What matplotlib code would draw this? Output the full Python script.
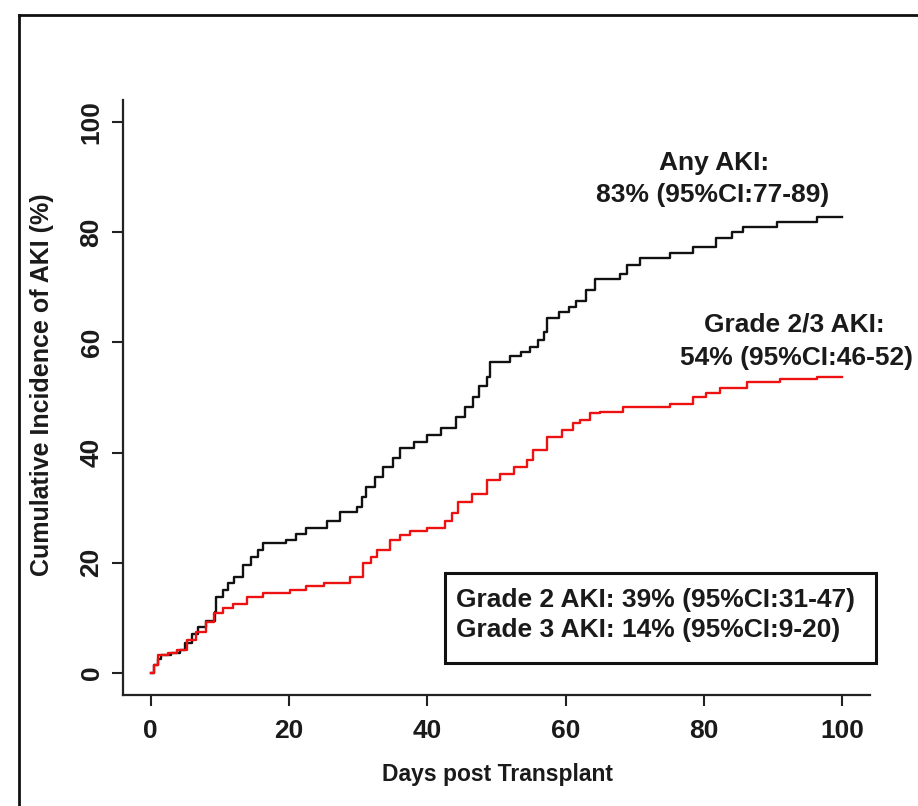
import matplotlib
matplotlib.use('Agg')
import matplotlib.pyplot as plt
from matplotlib.patches import Rectangle
from matplotlib.lines import Line2D

plt.rcParams['font.family'] = ['Liberation Sans', 'DejaVu Sans']

# ---------------------------- Data ----------------------------

# Any AKI: event days and cumulative incidence (%) after each step
any_days = [0, 0.5, 1, 1.5, 3, 4.3, 5, 6, 6.8, 8, 9.3, 9.5, 10.5, 11.2, 12, 13.4, 14.5,
            15.5, 16.3, 19.5, 21, 22.5, 25.5, 27.4, 29.8, 30.5, 31.2, 32.5, 33.6, 35,
            36, 38, 39.9, 42, 44.2, 45.5, 46.6, 47.5, 48.6, 49.1, 52, 53.5, 54.8, 56,
            56.8, 57.3, 59, 60.5, 61.5, 63, 64.3, 67.9, 68.8, 70.7, 75.1, 78.4, 81.8,
            84, 85.7, 90.5, 96.3, 100]
any_inc = [0, 1.5, 2.5, 3.2, 3.6, 4.2, 5.5, 7, 8.4, 9.5, 11, 13.8, 15, 16.3, 17.5, 19.6, 21,
           22.3, 23.5, 24.2, 25.2, 26.3, 27.5, 29.3, 30.2, 32, 33.8, 35.5, 37.4, 39,
           40.8, 42, 43.2, 44.4, 46.5, 48.3, 50.1, 52, 53.8, 56.5, 57.5, 58.3, 59.2, 60.5,
           61.9, 64.4, 65.5, 66.5, 67.5, 69.5, 71.6, 72.5, 74, 75.3, 76.2, 77.4, 78.9,
           80, 81, 81.9, 82.8, 82.8]

# Grade 2/3 AKI
g23_days = [0, 0.5, 1.1, 2.5, 3.8, 5.2, 6.5, 8, 9.1, 10.5, 11.9, 13.9, 16.3, 20.1, 22.5,
            25, 28.8, 30.7, 31.8, 32.7, 34.6, 36, 37.5, 40, 42.5, 43.5, 44.5, 46.5, 48.6,
            50.5, 52.5, 54.4, 55.3, 57.3, 59.5, 61.1, 62.1, 63.5, 65, 68.3, 75.1, 78.4,
            80.3, 82.3, 86.2, 91, 96.3, 100]
g23_inc = [0, 1.5, 3.3, 3.7, 4.2, 6, 7.5, 9.2, 10.8, 11.8, 12.6, 13.8, 14.5, 15.1, 15.7,
           16.3, 17.5, 19.9, 21.1, 22.3, 24.1, 25, 25.7, 26.4, 27.5, 29, 31, 32.5, 35,
           36.2, 37.3, 38.7, 40.5, 42.9, 44.1, 45.3, 46, 47.1, 47.4, 48.3, 48.9, 50.1,
           50.9, 51.7, 52.9, 53.3, 53.8, 53.8]

ticks = [0, 20, 40, 60, 80, 100]

any_label = ['Any AKI:', '83% (95%CI:77-89)']
g23_label = ['Grade 2/3 AKI:', '54% (95%CI:46-52)']
box_lines = ['Grade 2 AKI: 39% (95%CI:31-47)', 'Grade 3 AKI: 14% (95%CI:9-20)']

# ---------------------------- Plot ----------------------------

W, H = 918, 806
fig = plt.figure(figsize=(W / 100, H / 100), dpi=100)
ax = fig.add_axes([123 / W, 1 - 695 / H, (870 - 123) / W, (695 - 100) / H])

txt = '#1a1a1a'
fs = 19

ax.step(any_days, any_inc, where='post', color='#111111', lw=1.7)
ax.step(g23_days, g23_inc, where='post', color='#ee1111', lw=1.7)

ax.set_xlim(-4, 104)
ax.set_ylim(-4, 104)
for s in ['top', 'right']:
    ax.spines[s].set_visible(False)
for s in ['left', 'bottom']:
    ax.spines[s].set_linewidth(1.6)
    ax.spines[s].set_color('#222222')

ax.set_xticks(ticks)
ax.set_yticks(ticks)
ax.set_xticklabels([str(t) for t in ticks], fontsize=19, fontweight='bold', color=txt)
ax.set_yticklabels([str(t) for t in ticks], fontsize=19, fontweight='bold', color=txt,
                   rotation=90, va='center')
ax.tick_params(axis='both', length=8, width=1.5, color='#222222')
ax.tick_params(axis='x', pad=9)
ax.tick_params(axis='y', pad=6)

fig.text(497 / W, 1 - 775 / H, 'Days post Transplant', ha='center', va='center',
         fontsize=16.5, fontweight='bold', color=txt)
fig.text(42 / W, 1 - 385 / H, 'Cumulative Incidence of AKI (%)', ha='center', va='center',
         rotation=90, fontsize=18, fontweight='bold', color=txt)

# curve labels
ax.text(81.4, 92.6, any_label[0], ha='center', va='center', fontsize=fs,
        fontweight='bold', color=txt, clip_on=False)
ax.text(81.2, 86.8, any_label[1], ha='center', va='center', fontsize=fs,
        fontweight='bold', color=txt, clip_on=False)
ax.text(93.1, 63.2, g23_label[0], ha='center', va='center', fontsize=fs,
        fontweight='bold', color=txt, clip_on=False)
ax.text(93.4, 57.2, g23_label[1], ha='center', va='center', fontsize=fs,
        fontweight='bold', color=txt, clip_on=False)

# grade 2 / grade 3 summary box
ax.add_patch(Rectangle((42.5, 1.8), 62.4, 16.4, fill=False, lw=2.2,
                       edgecolor='#111111', clip_on=False))
ax.text(44.2, 13.2, box_lines[0], ha='left', va='center', fontsize=fs,
        fontweight='bold', color=txt, clip_on=False)
ax.text(44.2, 7.8, box_lines[1], ha='left', va='center', fontsize=fs,
        fontweight='bold', color=txt, clip_on=False)

# outer frame
fig.add_artist(Line2D([19 / W, 19 / W], [0, 1 - 15 / H], transform=fig.transFigure,
                      color='#111111', lw=2))
fig.add_artist(Line2D([19 / W, 1], [1 - 15 / H, 1 - 15 / H], transform=fig.transFigure,
                      color='#111111', lw=2))

fig.savefig('out.png', dpi=100)
